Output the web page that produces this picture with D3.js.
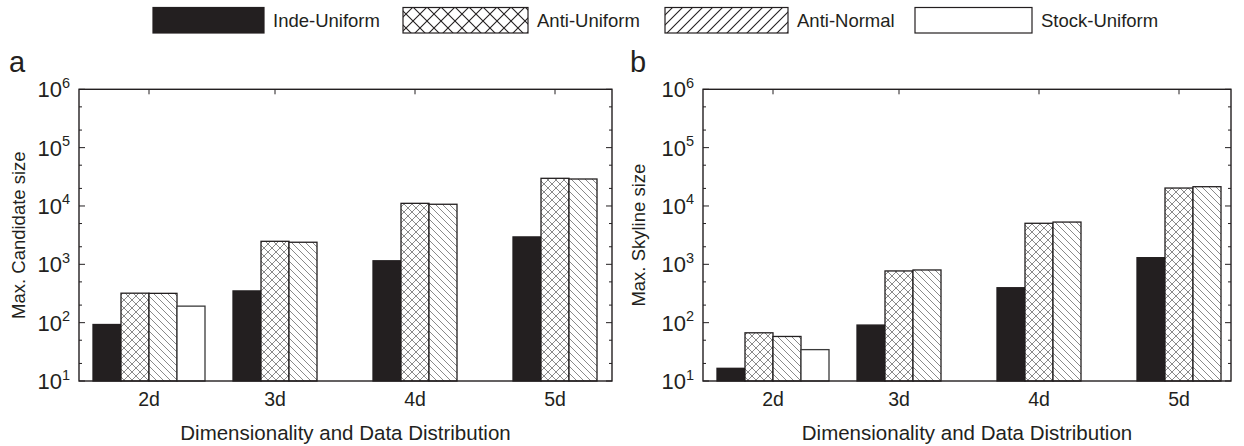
<!DOCTYPE html>
<html>
<head>
<meta charset="utf-8">
<script src="https://cdn.jsdelivr.net/npm/d3@7"></script>
<style>
  body { margin: 0; background: #fff; }
  text { font-family: "Liberation Sans", Arial, Helvetica, sans-serif; fill: #231f20; }
</style>
</head>
<body>
<svg id="chart" width="1244" height="446"></svg>
<script>
// ---- data ----
const dims = ["2d", "3d", "4d", "5d"];
const seriesNames = ["Inde-Uniform", "Anti-Uniform", "Anti-Normal", "Stock-Uniform"];

// (a) maximum candidate size
const candInde  = [93, 350, 1150, 2950];
const candAntiU = [320, 2480, 11100, 29800];
const candAntiN = [318, 2390, 10700, 29000];
const candStock = [192, null, null, null];

// (b) maximum skyline size
const skyInde  = [16.5, 91, 397, 1300];
const skyAntiU = [67, 770, 5050, 20300];
const skyAntiN = [58, 800, 5300, 21400];
const skyStock = [34.5, null, null, null];

const yExponents = [1, 2, 3, 4, 5, 6];
const yMinorMultipliers = [2, 5];

// ---- layout ----
const svg = d3.select("#chart");
const ink = "#231f20";
const groupStep = 140;      // pixels per dimensionality group
const barUnit = 0.2;        // bar width in group units

const panels = [
  { letter: "a", title: "Max. Candidate size", left: 79, right: 612, letterX: 9, titleX: 25,
    series: [candInde, candAntiU, candAntiN, candStock] },
  { letter: "b", title: "Max. Skyline size", left: 703, right: 1231, letterX: 630, titleX: 645,
    series: [skyInde, skyAntiU, skyAntiN, skyStock] }
];
const plotTop = 89.3, plotBottom = 381;

// legend swatch boxes (left edge, width)
const legendBoxes = [[153, 111], [403, 125], [665, 123], [915, 117]];

// ---- fill patterns ----
const defs = svg.append("defs");
function crossPattern(id, s, color, sw) {
  const p = defs.append("pattern").attr("id", id)
    .attr("patternUnits", "userSpaceOnUse").attr("width", s).attr("height", s);
  p.append("rect").attr("width", s).attr("height", s).attr("fill", "#fff");
  p.append("path").attr("d", `M0,0L${s},${s}M${s},0L0,${s}`)
    .attr("stroke", color).attr("stroke-width", sw).attr("fill", "none");
}
function diagPattern(id, s, color, sw, forward) {
  const p = defs.append("pattern").attr("id", id)
    .attr("patternUnits", "userSpaceOnUse").attr("width", s).attr("height", s);
  p.append("rect").attr("width", s).attr("height", s).attr("fill", "#fff");
  const d = forward
    ? `M0,${s}L${s},0M${-s / 2},${s / 2}L${s / 2},${-s / 2}M${s / 2},${s * 1.5}L${s * 1.5},${s / 2}`
    : `M0,0L${s},${s}M${-s / 2},${s / 2}L${s / 2},${s * 1.5}M${s / 2},${-s / 2}L${s * 1.5},${s / 2}`;
  p.append("path").attr("d", d).attr("stroke", color).attr("stroke-width", sw).attr("fill", "none");
}
crossPattern("barCross", 8, "#8a8a8a", 1);
diagPattern("barDiag", 7, "#8a8a8a", 1, false);
crossPattern("legCross", 14, ink, 1.1);
diagPattern("legDiag", 10, ink, 1.1, true);

const barFills = [ink, "url(#barCross)", "url(#barDiag)", "#fff"];
const legendFills = [ink, "url(#legCross)", "url(#legDiag)", "#fff"];

// ---- legend ----
const legend = svg.append("g");
seriesNames.forEach((name, j) => {
  const [x0, w] = legendBoxes[j];
  legend.append("rect").attr("x", x0).attr("y", 7.5).attr("width", w).attr("height", 25.5)
    .attr("fill", legendFills[j]).attr("stroke", ink).attr("stroke-width", 1.2);
  legend.append("text").attr("x", x0 + w + 9)
    .attr("y", 27).attr("font-size", 18.5).text(name);
});

// ---- panels ----
const y = d3.scaleLog().domain([10, 1e6]).range([plotBottom, plotTop]);

panels.forEach(p => {
  const g = svg.append("g");
  const x = d3.scaleLinear()
    .domain([-0.5, -0.5 + (p.right - p.left) / groupStep])
    .range([p.left, p.right]);
  const bw = x(barUnit) - x(0);

  // bars
  p.series.forEach((vals, j) => {
    g.selectAll(null)
      .data(vals.map((v, i) => ({ v, i })).filter(d => d.v != null))
      .join("rect")
      .attr("x", d => x(d.i + (j - 2) * barUnit))
      .attr("y", d => y(d.v))
      .attr("width", bw)
      .attr("height", d => y(10) - y(d.v))
      .attr("fill", barFills[j])
      .attr("stroke", j === 3 ? "#3a3a3a" : ink)
      .attr("stroke-width", 1.3);
  });

  // category centres: middle of the bars drawn in each group
  const centres = dims.map((_, i) => {
    const n = p.series.filter(s => s[i] != null).length;
    return x(i + (-2 + n / 2) * barUnit);
  });

  // frame
  g.append("rect").attr("x", p.left).attr("y", plotTop)
    .attr("width", p.right - p.left).attr("height", plotBottom - plotTop)
    .attr("fill", "none").attr("stroke", ink).attr("stroke-width", 1.4);

  // x ticks (top, inward) and labels
  centres.forEach((cx, i) => {
    g.append("line").attr("x1", cx).attr("x2", cx).attr("y1", plotTop).attr("y2", plotTop + 5)
      .attr("stroke", ink).attr("stroke-width", 1);
    g.append("text").attr("x", cx).attr("y", 406).attr("text-anchor", "middle")
      .attr("font-size", 19.5).text(dims[i]);
  });

  // y ticks, both sides, inward
  const majors = yExponents.map(e => Math.pow(10, e));
  const minors = [];
  yExponents.slice(0, -1).forEach(e => yMinorMultipliers.forEach(m => minors.push(m * Math.pow(10, e))));
  const tick = (v, len) => {
    g.append("line").attr("x1", p.left).attr("x2", p.left + len).attr("y1", y(v)).attr("y2", y(v))
      .attr("stroke", ink).attr("stroke-width", 1);
    g.append("line").attr("x1", p.right).attr("x2", p.right - len).attr("y1", y(v)).attr("y2", y(v))
      .attr("stroke", ink).attr("stroke-width", 1);
  };
  majors.forEach(v => tick(v, 6));
  minors.forEach(v => tick(v, 3));

  yExponents.forEach(e => {
    const t = g.append("text").attr("x", p.left - 9).attr("y", y(Math.pow(10, e)) + 8)
      .attr("text-anchor", "end").attr("font-size", 22);
    t.append("tspan").text("10");
    t.append("tspan").attr("font-size", 14.5).attr("dy", -9.5).text(e);
  });

  // axis titles
  g.append("text")
    .attr("transform", `translate(${p.titleX},${(plotTop + plotBottom) / 2}) rotate(-90)`)
    .attr("text-anchor", "middle").attr("font-size", 18.5).text(p.title);
  g.append("text").attr("x", (p.left + p.right) / 2).attr("y", 440)
    .attr("text-anchor", "middle").attr("font-size", 20.5).text("Dimensionality and Data Distribution");

  // panel letter
  g.append("text").attr("x", p.letterX).attr("y", 72).attr("font-size", 29).text(p.letter);
});
</script>
</body>
</html>
